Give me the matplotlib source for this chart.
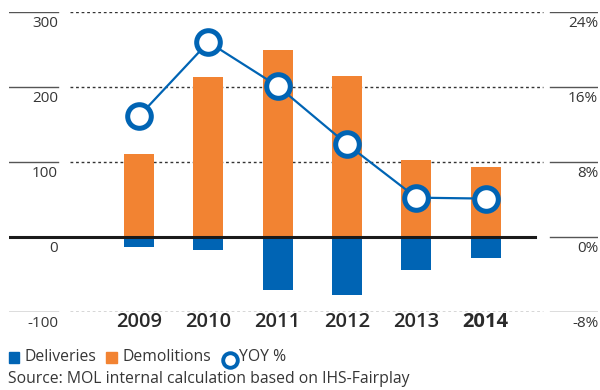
import matplotlib
matplotlib.use("Agg")
import matplotlib.pyplot as plt
from matplotlib.lines import Line2D
from matplotlib.patches import Rectangle

plt.rcParams["font.family"] = ["Open Sans", "DejaVu Sans"]

years = ["2009", "2010", "2011", "2012", "2013", "2014"]
demolitions = [111, 213, 249, 215, 103, 93]
deliveries = [-13, -17, -71, -77, -44, -28]
yoy_pct = [12.9, 20.8, 16.1, 9.9, 4.2, 4.1]

left_ticks = [300, 200, 100, 0, -100]
right_ticks = ["24%", "16%", "8%", "0%", "-8%"]

BLUE = "#0064b4"
ORANGE = "#f28332"
GREY = "#363636"

fig = plt.figure(figsize=(6, 3.9), dpi=100)
ax = fig.add_axes([0.015, 0.2, 0.982, 0.769])
ax.set_ylim(-100, 300)
ax.set_xlim(-1.876, 6.623)
ax.axis("off")

x = range(len(years))
ax.bar(x, demolitions, width=0.43, color=ORANGE, zorder=2)
ax.bar(x, deliveries, width=0.43, color=BLUE, zorder=2)

# grid: short solid ticks at both ends, dotted run in between
tr = ax.get_yaxis_transform()
for v, rl in zip(left_ticks, right_ticks):
    ax.plot([0, 0.083], [v, v], transform=tr, color="#555555", lw=1.0, zorder=1)
    ax.plot([0.918, 1.0], [v, v], transform=tr, color="#555555", lw=1.0, zorder=1)
    if v != 0:
        ax.plot([0.104, 0.907], [v, v], transform=tr, color="#333333",
                lw=1.0, ls=(0, (2, 2)), zorder=1)
    ax.annotate(str(v), (0.083, v), xycoords=tr, xytext=(0, -3),
                textcoords="offset points", ha="right", va="top",
                fontsize=11, color=GREY)
    ax.annotate(rl, (1.0, v), xycoords=tr, xytext=(0, -3),
                textcoords="offset points", ha="right", va="top",
                fontsize=11, color=GREY)
ax.plot([0, 0.893], [0, 0], transform=tr, color="#1a1a1a", lw=2.2, zorder=3)

for i, yr in enumerate(years):
    ax.text(i, -113, yr, ha="center", va="center", fontsize=14.5, color="#2a2a2a",
            fontweight="bold" if yr == "2014" else "semibold")

# YOY line on its own percent scale
ax2 = fig.add_axes(ax.get_position(), sharex=ax)
ax2.set_ylim(-8, 24)
ax2.axis("off")
ax2.plot(x, yoy_pct, color=BLUE, lw=1.6, marker="o", markersize=17,
         markerfacecolor="white", markeredgecolor=BLUE, markeredgewidth=3.6,
         zorder=4)

# legend row
W, H = 600, 390
fig.patches.append(Rectangle((9 / W, 1 - 363 / H), 10 / W, 11 / H,
                             transform=fig.transFigure, color=BLUE))
fig.text(25 / W, 1 - 357 / H, "Deliveries", va="center", fontsize=11.3, color=GREY)
fig.patches.append(Rectangle((106 / W, 1 - 363 / H), 11 / W, 11 / H,
                             transform=fig.transFigure, color=ORANGE))
fig.text(123 / W, 1 - 357 / H, "Demolitions", va="center", fontsize=11.3, color=GREY)
fig.add_artist(Line2D([230 / W], [1 - 360 / H], transform=fig.transFigure,
                      marker="o", markersize=10.5, markerfacecolor="white",
                      markeredgecolor=BLUE, markeredgewidth=2.8))
fig.text(239 / W, 1 - 357 / H, "YOY %", va="center", fontsize=11.3, color=GREY)

fig.text(8 / W, 1 - 379 / H, "Source: MOL internal calculation based on IHS-Fairplay",
         va="center", fontsize=11.3, color=GREY)

fig.savefig("out.png", dpi=100)
